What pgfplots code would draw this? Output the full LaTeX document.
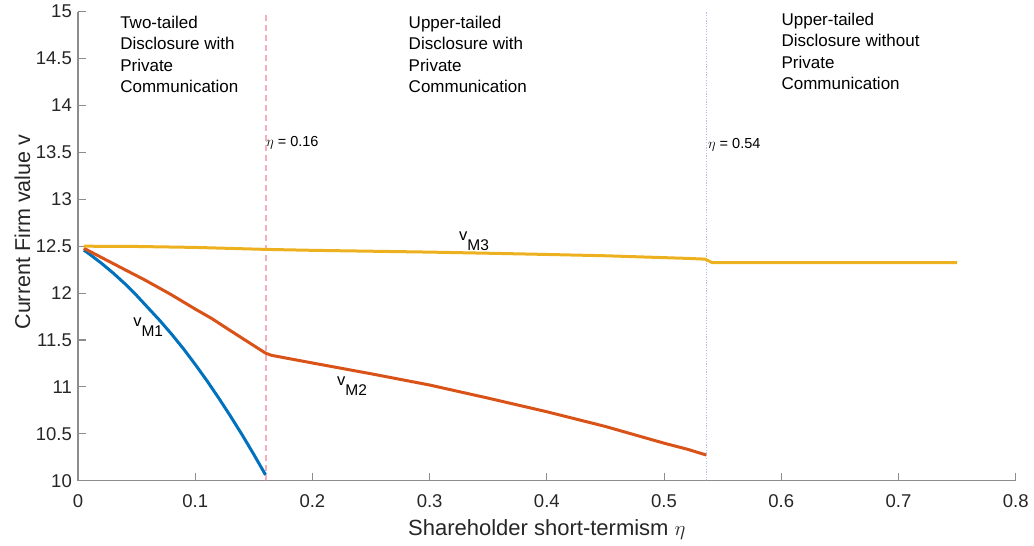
\documentclass[border=0pt]{standalone}
\usepackage{fontspec}
\setmainfont{Liberation Sans}
\usepackage{pgfplots}
\pgfplotsset{compat=1.18}
\definecolor{mblue}{HTML}{0072BD}
\definecolor{morange}{HTML}{D95319}
\definecolor{myellow}{HTML}{EDB120}
\definecolor{axgray}{HTML}{8C8C8C}
\definecolor{txtgray}{HTML}{262626}
\definecolor{pinkline}{HTML}{F07890}
\definecolor{dotline}{HTML}{9AA4D8}
\begin{document}
\begin{tikzpicture}
\path[use as bounding box] (-78pt,-65.3pt) rectangle (956pt,480.7pt);
\begin{axis}[
  scale only axis, width=937.7pt, height=469pt,
  xmin=0, xmax=0.8, ymin=10, ymax=15,
  axis x line=bottom, axis y line=left,
  axis line style={-, axgray, line width=1.3pt},
  tick align=inside, major tick length=8pt,
  tick style={axgray, line width=1.1pt},
  xtick={0,0.1,0.2,0.3,0.4,0.5,0.6,0.7,0.8},
  xticklabels={0,0.1,0.2,0.3,0.4,0.5,0.6,0.7,0.8},
  ytick={10,10.5,11,11.5,12,12.5,13,13.5,14,14.5,15},
  yticklabels={10,10.5,11,11.5,12,12.5,13,13.5,14,14.5,15},
  tick label style={font=\fontsize{18.5}{22}\selectfont, text=txtgray},
  xticklabel style={inner sep=0pt, anchor=north, yshift=-14pt},
  yticklabel style={inner sep=0pt, anchor=east, xshift=-6pt},
  xlabel={Shareholder short-termism $\eta$},
  xlabel style={at={(axis description cs:0.5,0)}, anchor=base, yshift=-54.3pt, inner sep=0pt, font=\fontsize{22}{26}\selectfont, text=txtgray},
  ylabel={Current Firm value v},
  ylabel style={at={(axis description cs:-0.051,0.53)}, anchor=base, inner sep=0pt, font=\fontsize{21.5}{25}\selectfont, text=txtgray},
  clip=false,
]
\addplot[color=pinkline, opacity=0.6, line width=2pt, dash pattern=on 6pt off 4pt] coordinates {(0.16,10) (0.16,15)};
\addplot[color=dotline, opacity=0.7, line width=1.5pt, dash pattern=on 1.2pt off 1.5pt] coordinates {(0.536,10) (0.536,15)};
\addplot[mblue, line width=3pt] coordinates {
(0.005,12.458) (0.01,12.414) (0.02,12.318) (0.03,12.214) (0.04,12.10)
(0.05,11.975) (0.06,11.84) (0.07,11.705) (0.08,11.56) (0.09,11.406)
(0.10,11.24) (0.11,11.066) (0.12,10.882) (0.13,10.69) (0.14,10.49)
(0.15,10.28) (0.16,10.062)};
\addplot[morange, line width=3pt] coordinates {
(0.005,12.478) (0.02,12.38) (0.03,12.315) (0.04,12.25) (0.057,12.14)
(0.07,12.05) (0.08,11.98) (0.09,11.905) (0.10,11.83) (0.114,11.73)
(0.13,11.60) (0.14,11.52) (0.15,11.44) (0.155,11.40) (0.16,11.36)
(0.165,11.337) (0.17,11.325) (0.2,11.255) (0.25,11.14) (0.3,11.02)
(0.35,10.88) (0.4,10.735) (0.45,10.578) (0.5,10.40) (0.52,10.335) (0.536,10.274)};
\addplot[myellow, line width=3pt] coordinates {
(0.005,12.50) (0.05,12.497) (0.1,12.487) (0.16,12.466) (0.2,12.456)
(0.3,12.437) (0.35,12.425) (0.4,12.412) (0.45,12.398) (0.5,12.378)
(0.52,12.37) (0.535,12.362) (0.541,12.325) (0.75,12.325)};
% curve labels
\node[anchor=base west, inner sep=0pt, font=\fontsize{16.5}{16}\selectfont] at (axis cs:0.047,11.64) {v\raisebox{-10pt}{\fontsize{15.5}{15}\selectfont M1}};
\node[anchor=base west, inner sep=0pt, font=\fontsize{16.5}{16}\selectfont] at (axis cs:0.221,11.02) {v\raisebox{-10pt}{\fontsize{15.5}{15}\selectfont M2}};
\node[anchor=base west, inner sep=0pt, font=\fontsize{16.5}{16}\selectfont] at (axis cs:0.325,12.566) {v\raisebox{-10pt}{\fontsize{15.5}{15}\selectfont M3}};
% region texts
\node[anchor=north west, inner sep=0pt, align=left, font=\fontsize{17}{21.3}\selectfont] at (axis cs:0.0359,14.955) {Two-tailed\\Disclosure with\\Private\\Communication};
\node[anchor=north west, inner sep=0pt, align=left, font=\fontsize{17}{21.3}\selectfont] at (axis cs:0.282,14.955) {Upper-tailed\\Disclosure with\\Private\\Communication};
\node[anchor=north west, inner sep=0pt, align=left, font=\fontsize{17}{21.3}\selectfont] at (axis cs:0.6001,14.985) {Upper-tailed\\Disclosure without\\Private\\Communication};
% eta labels
\node[anchor=base west, inner sep=0pt, font=\fontsize{14.5}{14}\selectfont] at (axis cs:0.1605,13.56) {$\eta$ = 0.16};
\node[anchor=base west, inner sep=0pt, font=\fontsize{14.5}{14}\selectfont] at (axis cs:0.5375,13.54) {$\eta$ = 0.54};
\end{axis}
\end{tikzpicture}
\end{document}
